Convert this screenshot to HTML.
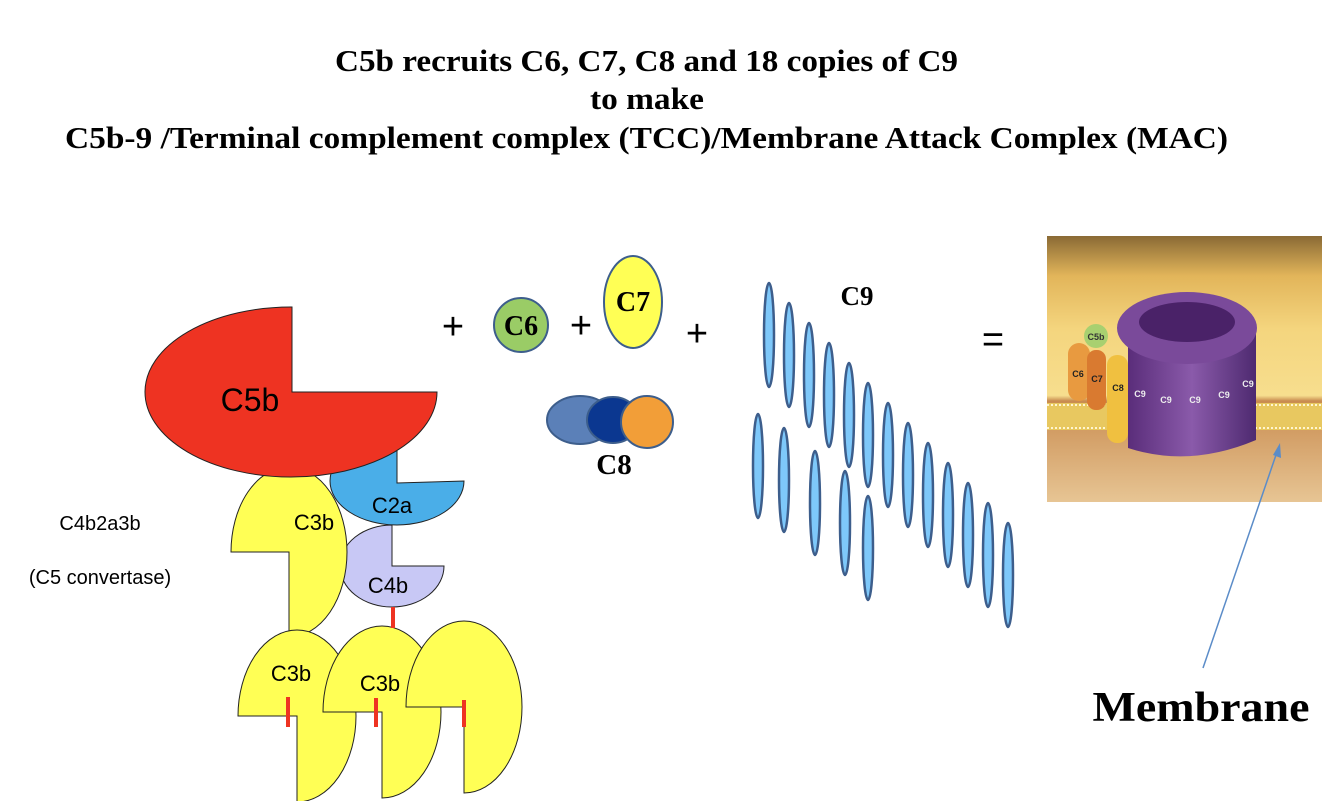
<!DOCTYPE html>
<html><head><meta charset="utf-8"><style>html,body{margin:0;padding:0;background:#fff}svg{display:block}</style></head>
<body>
<svg width="1334" height="801" viewBox="0 0 1334 801" xmlns="http://www.w3.org/2000/svg">
<defs>
<linearGradient id="bg" x1="0" y1="0" x2="0" y2="1">
<stop offset="0" stop-color="#8a6a35"/><stop offset="0.15" stop-color="#e2b55a"/><stop offset="0.35" stop-color="#f4d57e"/><stop offset="0.6" stop-color="#f7de8e"/><stop offset="0.62" stop-color="#c98c50"/><stop offset="1" stop-color="#e7c594"/>
</linearGradient>
<linearGradient id="pu" x1="0" y1="0" x2="1" y2="0">
<stop offset="0" stop-color="#5a2d7a"/><stop offset="0.5" stop-color="#8a5aaa"/><stop offset="1" stop-color="#4e2a70"/>
</linearGradient>
</defs>
<g font-family="Liberation Serif, serif" font-weight="bold" fill="#000" font-size="31">
<text x="335" y="71" textLength="623" lengthAdjust="spacingAndGlyphs">C5b recruits C6, C7, C8 and 18 copies of C9</text>
<text x="590" y="109" textLength="114" lengthAdjust="spacingAndGlyphs">to make</text>
<text x="65" y="148" textLength="1163" lengthAdjust="spacingAndGlyphs">C5b-9 /Terminal complement complex (TCC)/Membrane Attack Complex (MAC)</text>
</g>
<g stroke="#222" stroke-width="1">
<path d="M392 525 A52 41 0 1 0 444 566 L392 566 Z" fill="#c8c8f5"/>
<path d="M397 437 A67 44 0 1 0 464 481 L397 483 Z" fill="#4aaee8"/>
<path d="M231 552 A58 85 0 1 1 289 637 L289 552 Z" fill="#ffff55"/>
<path d="M292 307 A146 85 0 1 0 437 392 L292 392 Z" fill="#ee3322"/>
<path d="M238 716 A59 86 0 1 1 297 802 L297 716 Z" fill="#ffff55"/>
<path d="M323 712 A59 86 0 1 1 382 798 L382 712 Z" fill="#ffff55"/>
<path d="M406 707 A58 86 0 1 1 464 793 L464 707 Z" fill="#ffff55"/>
</g>
<g stroke="#ee3322" stroke-width="4">
<line x1="393" y1="607" x2="393" y2="628"/>
<line x1="288" y1="697" x2="288" y2="727"/>
<line x1="376" y1="698" x2="376" y2="727"/>
<line x1="464" y1="700" x2="464" y2="727"/>
</g>
<g font-family="Liberation Sans, sans-serif" fill="#000" text-anchor="middle">
<text x="250" y="411" font-size="32">C5b</text>
<text x="314" y="530" font-size="22">C3b</text>
<text x="392" y="513" font-size="22">C2a</text>
<text x="388" y="593" font-size="22">C4b</text>
<text x="291" y="681" font-size="22">C3b</text>
<text x="380" y="691" font-size="22">C3b</text>
<text x="100" y="530" font-size="20">C4b2a3b</text>
<text x="100" y="584" font-size="20">(C5 convertase)</text>
</g>
<g font-family="Liberation Sans, sans-serif" font-size="38" text-anchor="middle" fill="#000">
<text x="453" y="339">+</text><text x="581" y="338">+</text><text x="697" y="346">+</text>
<text x="993" y="352">=</text>
</g>
<g stroke="#3d5e8c" stroke-width="2">
<circle cx="521" cy="325" r="27" fill="#9acc66"/>
<ellipse cx="633" cy="302" rx="29" ry="46" fill="#ffff55"/>
<ellipse cx="580" cy="420" rx="33" ry="24" fill="#5b80b8"/>
<ellipse cx="613" cy="420" rx="26" ry="23" fill="#0b3790"/>
<circle cx="647" cy="422" r="26" fill="#f29e38"/>
</g>
<g font-family="Liberation Serif, serif" font-weight="bold" fill="#000" text-anchor="middle">
<text x="521" y="335" font-size="28">C6</text>
<text x="633" y="311" font-size="28">C7</text>
<text x="614" y="474" font-size="29">C8</text>
<text x="857" y="305" font-size="27">C9</text>
<text x="1201" y="721" font-size="42" textLength="217" lengthAdjust="spacingAndGlyphs">Membrane</text>
</g>
<g fill="#7ec8fa" stroke="#3d5e8c" stroke-width="2.5">
<ellipse cx="769" cy="335" rx="5" ry="52"/><ellipse cx="789" cy="355" rx="5" ry="52"/><ellipse cx="809" cy="375" rx="5" ry="52"/><ellipse cx="829" cy="395" rx="5" ry="52"/><ellipse cx="849" cy="415" rx="5" ry="52"/><ellipse cx="868" cy="435" rx="5" ry="52"/><ellipse cx="888" cy="455" rx="5" ry="52"/><ellipse cx="908" cy="475" rx="5" ry="52"/><ellipse cx="928" cy="495" rx="5" ry="52"/><ellipse cx="948" cy="515" rx="5" ry="52"/><ellipse cx="968" cy="535" rx="5" ry="52"/><ellipse cx="988" cy="555" rx="5" ry="52"/><ellipse cx="1008" cy="575" rx="5" ry="52"/>
<ellipse cx="758" cy="466" rx="5" ry="52"/><ellipse cx="784" cy="480" rx="5" ry="52"/><ellipse cx="815" cy="503" rx="5" ry="52"/><ellipse cx="845" cy="523" rx="5" ry="52"/><ellipse cx="868" cy="548" rx="5" ry="52"/>
</g>
<rect x="1047" y="236" width="275" height="266" fill="url(#bg)"/>
<rect x="1047" y="403" width="275" height="27" fill="#e8c860"/>
<line x1="1047" y1="405" x2="1322" y2="405" stroke="#fff6d0" stroke-width="2" stroke-dasharray="2 2"/>
<line x1="1047" y1="428" x2="1322" y2="428" stroke="#fff6d0" stroke-width="2" stroke-dasharray="2 2"/>
<circle cx="1096" cy="336" r="12" fill="#a8d070"/>
<rect x="1068" y="343" width="22" height="58" rx="11" fill="#e89a40"/>
<rect x="1087" y="350" width="19" height="60" rx="9" fill="#d97a30"/>
<rect x="1107" y="355" width="21" height="88" rx="10" fill="#f0c040"/>
<path d="M1128 335 L1128 448 Q1190 468 1256 440 L1256 330 Z" fill="url(#pu)"/>
<ellipse cx="1187" cy="328" rx="70" ry="36" fill="#7a4a9a"/>
<ellipse cx="1187" cy="322" rx="48" ry="20" fill="#4a2268"/>
<g font-family="Liberation Sans, sans-serif" font-size="9" font-weight="bold" text-anchor="middle">
<text x="1096" y="340" fill="#333">C5b</text>
<text x="1078" y="377" fill="#222">C6</text>
<text x="1097" y="382" fill="#222">C7</text>
<text x="1118" y="391" fill="#222">C8</text>
<g fill="#eee"><text x="1140" y="397">C9</text><text x="1166" y="403">C9</text><text x="1195" y="403">C9</text><text x="1224" y="398">C9</text><text x="1248" y="387">C9</text></g>
</g>
<line x1="1203" y1="668" x2="1277" y2="452" stroke="#5b8cc8" stroke-width="1.5"/>
<path d="M1280 443 L1281 458 L1273 455 Z" fill="#5b8cc8"/>
</svg>
</body></html>
